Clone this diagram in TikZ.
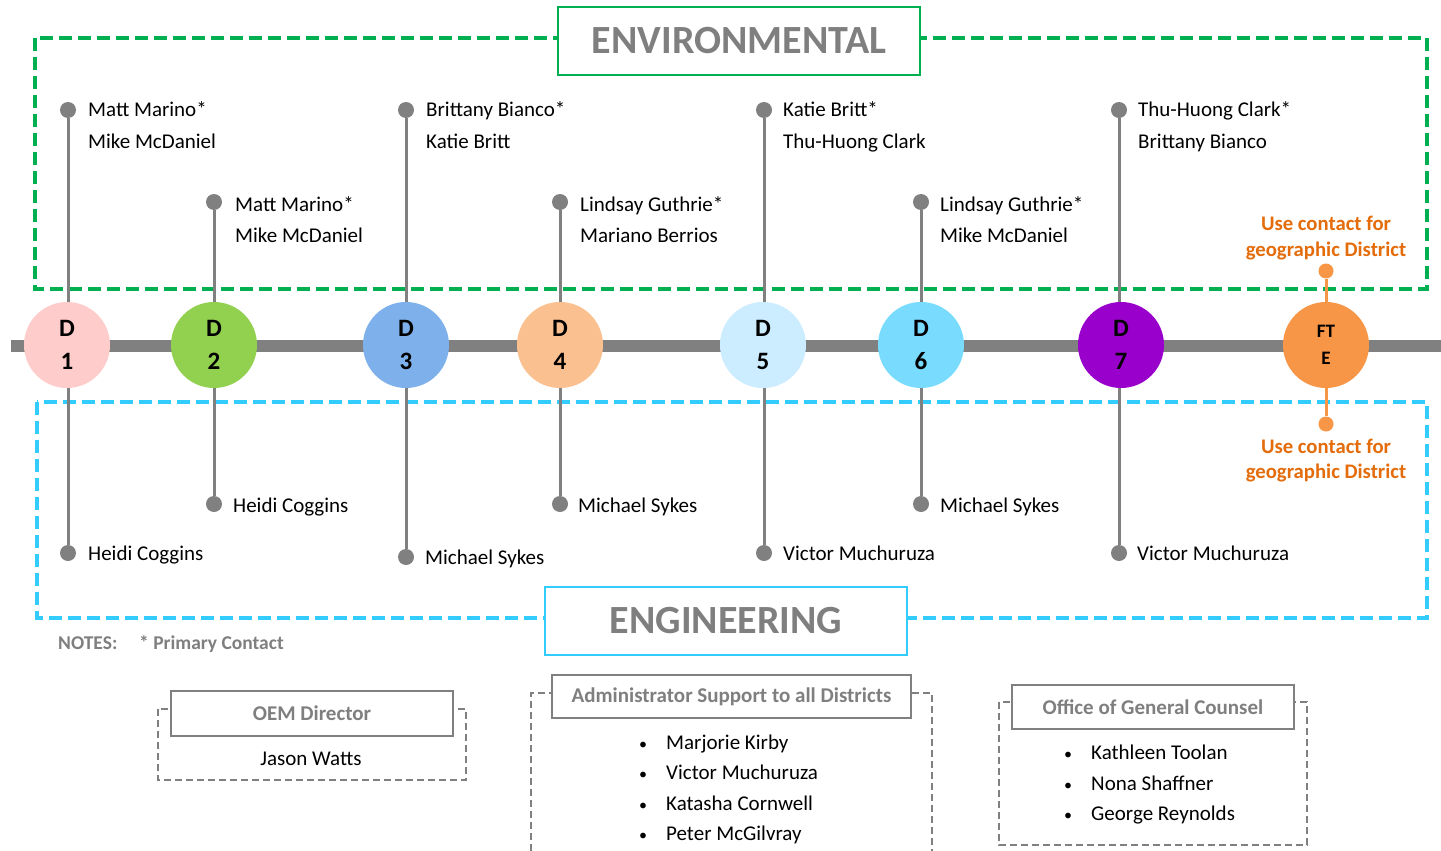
\documentclass[tikz,border=0pt]{standalone}
\usepackage{fontspec}
\setmainfont{Carlito}
\definecolor{envgreen}{HTML}{00B050}
\definecolor{engcyan}{HTML}{33CCFF}
\definecolor{linegray}{HTML}{808080}
\definecolor{titlegray}{HTML}{7F7F7F}
\definecolor{orangetxt}{HTML}{E46C0A}
\definecolor{fteorange}{HTML}{F79646}
\definecolor{cA}{HTML}{FFCCCC}
\definecolor{cB}{HTML}{92D050}
\definecolor{cC}{HTML}{7EB1EB}
\definecolor{cD}{HTML}{FAC090}
\definecolor{cE}{HTML}{CCECFF}
\definecolor{cF}{HTML}{79DCFF}
\definecolor{cG}{HTML}{9900CC}
\tikzset{
  dist/.style={circle, minimum size=86pt, inner sep=0pt, align=center,
    font=\bfseries\fontsize{25}{33}\selectfont},
  ftedist/.style={circle, minimum size=86pt, inner sep=0pt, align=center, fill=fteorange,
    font=\bfseries\fontsize{19}{27}\selectfont},
  gdot/.style={circle, fill=linegray, minimum size=16pt, inner sep=0pt},
  odot/.style={circle, fill=fteorange, minimum size=15pt, inner sep=0pt},
  vline/.style={draw=linegray, line width=3pt},
  oline/.style={draw=fteorange, line width=3pt},
  person/.style={anchor=base west, inner sep=0pt, font=\fontsize{21}{24}\selectfont},
  bul/.style={anchor=base, inner sep=0pt, font=\fontsize{16}{24}\selectfont},
  otext/.style={anchor=base, inner sep=0pt, text=orangetxt, font=\bfseries\fontsize{20.7}{24}\selectfont},
  envbox/.style={draw=envgreen, line width=3.5pt, dash pattern=on 13pt off 6pt},
  engbox/.style={draw=engcyan, line width=3.5pt, dash pattern=on 13pt off 6pt},
  bigtitle/.style={fill=white, line width=2pt, minimum width=362pt, minimum height=68pt,
    text=titlegray, font=\bfseries\fontsize{40}{44}\selectfont},
  grayout/.style={draw=linegray, line width=2pt, dash pattern=on 7pt off 4pt},
  graytitle/.style={draw=linegray, fill=white, line width=2pt, inner sep=0pt,
    text=titlegray, font=\bfseries\fontsize{21}{24}\selectfont},
  notes/.style={anchor=base west, inner sep=0pt, text=titlegray, font=\bfseries\fontsize{19.5}{22}\selectfont},
}
\begin{document}
\begin{tikzpicture}[x=1pt,y=-1pt]
\useasboundingbox (0,0) rectangle (1441,851);
\fill[white] (0,0) rectangle (1441,851);

% section frames
\draw[envbox] (35,38) rectangle (1427,289);
\draw[engbox] (37,402) rectangle (1427,618);
\node[bigtitle, draw=envgreen] (envtitle) at (739,41) {ENVIRONMENTAL};
\node[bigtitle, draw=engcyan] (engtitle) at (726,621) {ENGINEERING};

% main line
\coordinate (lineL) at (11,346);
\coordinate (lineR) at (1441,346);
\draw[linegray, line width=12pt] (lineL) -- (lineR);

% dots
\node[gdot] (t1) at (68,110) {};
\node[gdot] (b1) at (68,553) {};
\node[gdot] (t2) at (214,202) {};
\node[gdot] (b2) at (214,504) {};
\node[gdot] (t3) at (406,110) {};
\node[gdot] (b3) at (406,557) {};
\node[gdot] (t4) at (560,202) {};
\node[gdot] (b4) at (560,504) {};
\node[gdot] (t5) at (764,110) {};
\node[gdot] (b5) at (764,553) {};
\node[gdot] (t6) at (921,202) {};
\node[gdot] (b6) at (921,504) {};
\node[gdot] (t7) at (1119,110) {};
\node[gdot] (b7) at (1119,553) {};
\node[odot] (t8) at (1326,271) {};
\node[odot] (b8) at (1326,424) {};

% district circles (coordinates for lines)
\coordinate (c1) at (67,345);
\coordinate (c2) at (214,345);
\coordinate (c3) at (406,345);
\coordinate (c4) at (560,345);
\coordinate (c5) at (763,345);
\coordinate (c6) at (921,345);
\coordinate (c7) at (1121,345);
\coordinate (c8) at (1326,345);

\foreach \i in {1,...,7}{ \draw[vline] (t\i) -- (b\i); }
\draw[oline] (t8) -- (b8);

\node[dist, fill=cA] (d1) at (c1) {D\\1};
\node[dist, fill=cB] (d2) at (c2) {D\\2};
\node[dist, fill=cC] (d3) at (c3) {D\\3};
\node[dist, fill=cD] (d4) at (c4) {D\\4};
\node[dist, fill=cE] (d5) at (c5) {D\\5};
\node[dist, fill=cF] (d6) at (c6) {D\\6};
\node[dist, fill=cG] (d7) at (c7) {D\\7};
\node[ftedist] (d8) at (c8) {FT\\E};

% environmental names
\node[person] (e1a) at (88,117) {Matt Marino*};
\node[person] (e1b) at (88,148) {Mike McDaniel};
\node[person] (e2a) at (235,211) {Matt Marino*};
\node[person] (e2b) at (235,242) {Mike McDaniel};
\node[person] (e3a) at (426,117) {Brittany Bianco*};
\node[person] (e3b) at (426,148) {Katie Britt};
\node[person] (e4a) at (580,211) {Lindsay Guthrie*};
\node[person] (e4b) at (580,242) {Mariano Berrios};
\node[person] (e5a) at (783,117) {Katie Britt*};
\node[person] (e5b) at (783,148) {Thu-Huong Clark};
\node[person] (e6a) at (940,211) {Lindsay Guthrie*};
\node[person] (e6b) at (940,242) {Mike McDaniel};
\node[person] (e7a) at (1138,117) {Thu-Huong Clark*};
\node[person] (e7b) at (1138,148) {Brittany Bianco};
\node[otext] (e8a) at (1326,230) {Use contact for};
\node[otext] (e8b) at (1326,256) {geographic District};

% engineering names
\node[person] (g1) at (88,560) {Heidi Coggins};
\node[person] (g2) at (233,512) {Heidi Coggins};
\node[person] (g3) at (425,564) {Michael Sykes};
\node[person] (g4) at (578,512) {Michael Sykes};
\node[person] (g5) at (783,560) {Victor Muchuruza};
\node[person] (g6) at (940,512) {Michael Sykes};
\node[person] (g7) at (1137,560) {Victor Muchuruza};
\node[otext] (g8a) at (1326,453) {Use contact for};
\node[otext] (g8b) at (1326,478) {geographic District};

% notes
\node[notes] (notes) at (58,649) {NOTES:};
\node[notes] (primary) at (139,649) {* Primary Contact};

% OEM Director box
\draw[grayout] (158,709) rectangle (466,780);
\node[graytitle, minimum width=282pt, minimum height=45pt] (oem) at (312,713.5) {OEM Director};
\node[person, anchor=base] (jw) at (311,765) {Jason Watts};

% Administrator support box
\coordinate (asBL) at (531,851);
\coordinate (asTL) at (531,693);
\coordinate (asTR) at (932,693);
\coordinate (asBR) at (932,851);
\draw[grayout] (asBL) -- (asTL) -- (asTR) -- (asBR);
\node[graytitle, minimum width=359pt, minimum height=43pt] (admin) at (731.5,696.5) {Administrator Support to all Districts};
\foreach \n/\y in {Marjorie Kirby/749, Victor Muchuruza/779, Katasha Cornwell/810, Peter McGilvray/840}{
  \node[bul] at (643,\y) {\textbullet};
  \node[person] at (666,\y) {\n};
}

% Office of General Counsel box
\draw[grayout] (999,702) rectangle (1307,845);
\node[graytitle, minimum width=282pt, minimum height=44pt] (ogc) at (1153,707) {Office of General Counsel};
\foreach \n/\y in {Kathleen Toolan/759, Nona Shaffner/790, George Reynolds/820}{
  \node[bul] at (1068,\y) {\textbullet};
  \node[person] at (1091,\y) {\n};
}
\end{tikzpicture}
\end{document}
